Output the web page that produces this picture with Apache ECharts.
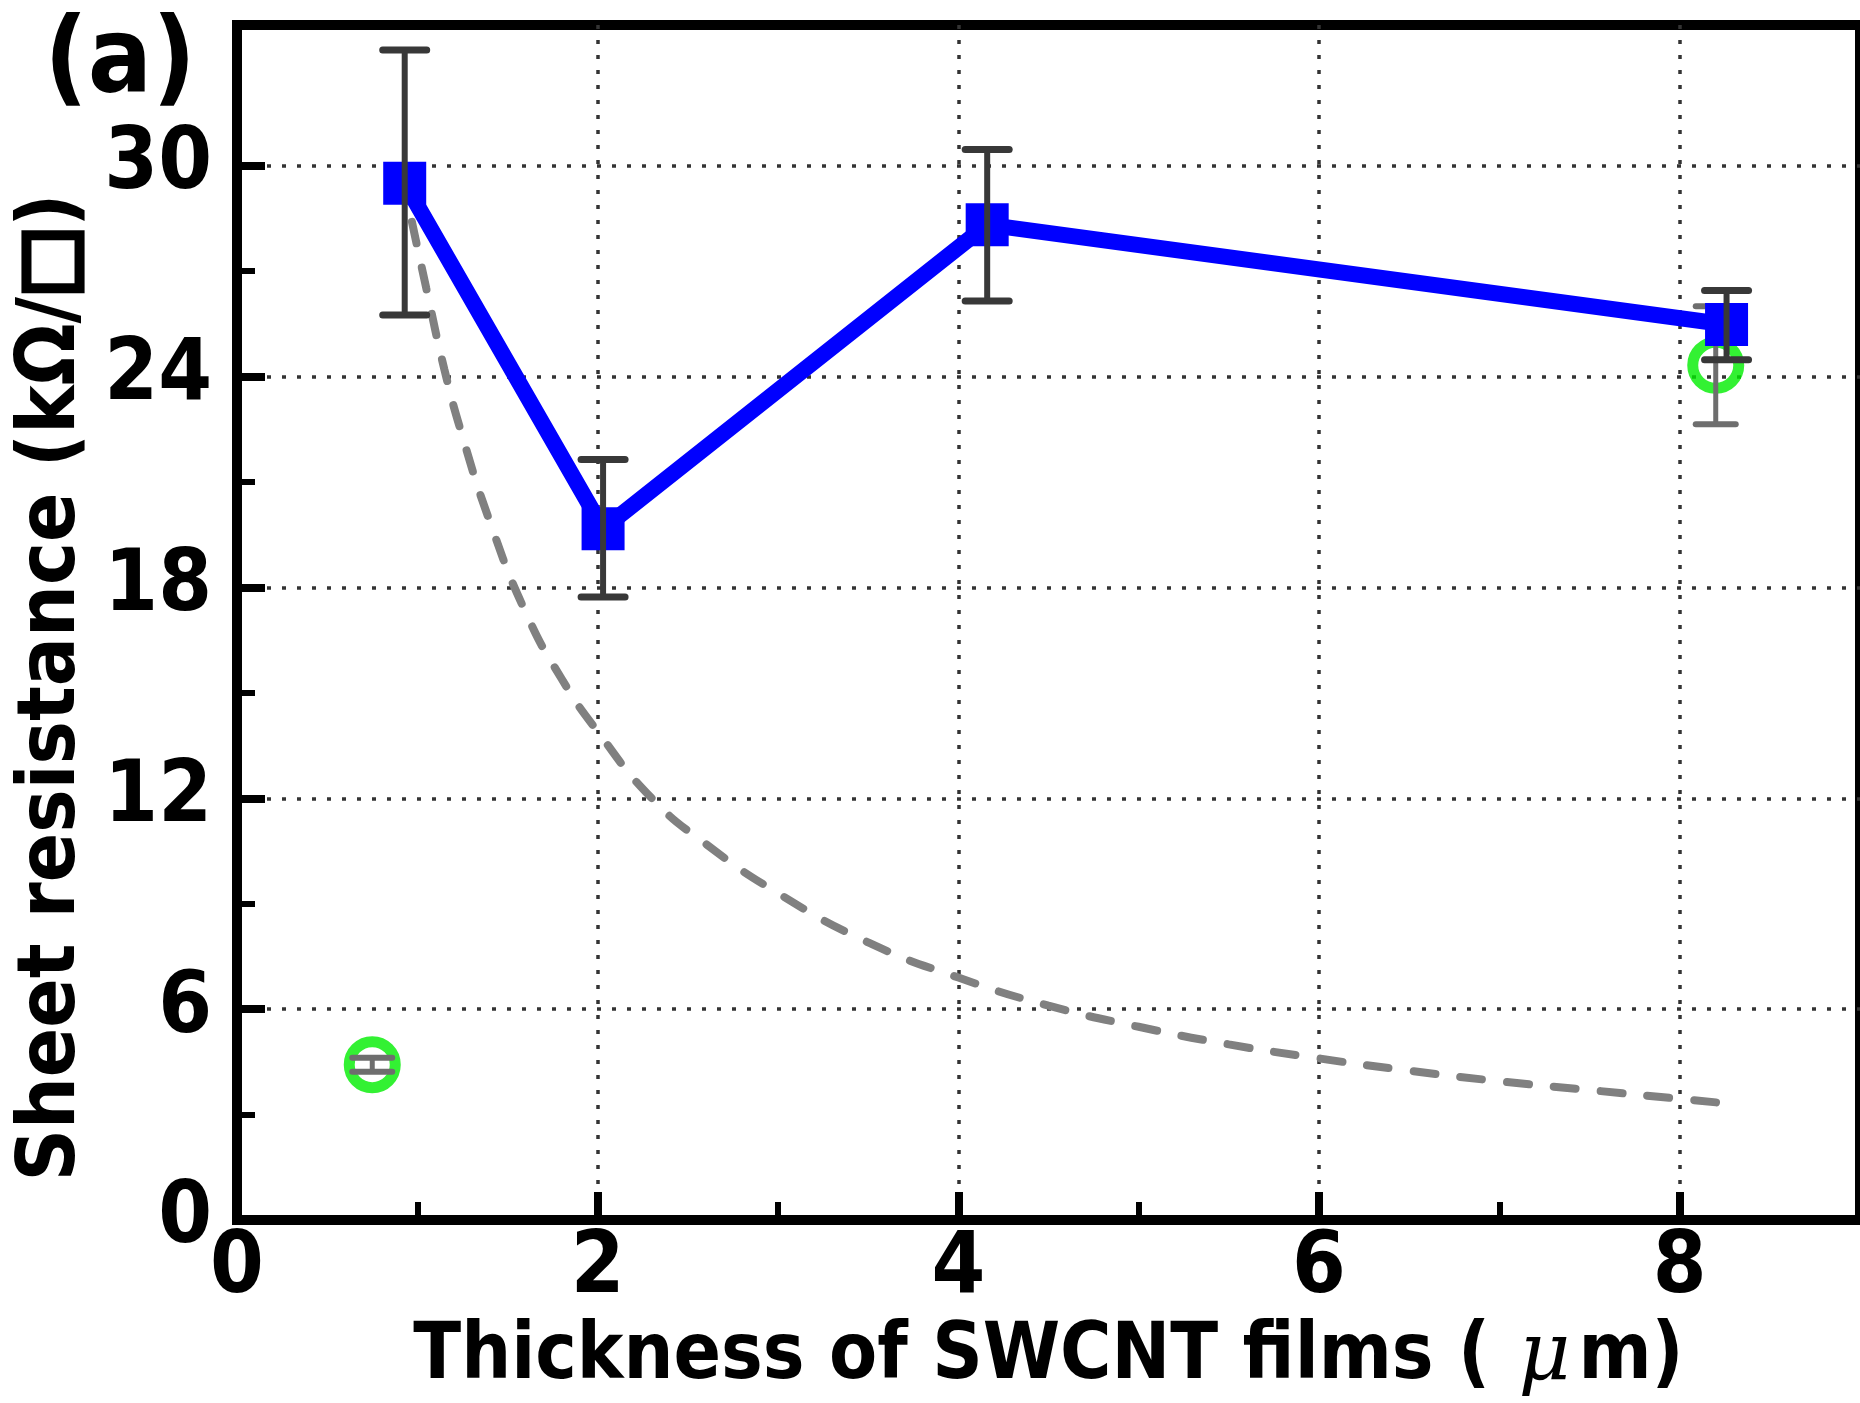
<!DOCTYPE html>
<html><head><meta charset="utf-8">
<script src="https://cdn.jsdelivr.net/npm/echarts@6/dist/echarts.min.js"></script>
<style>html,body{margin:0;padding:0;background:#fff}#c{width:1860px;height:1403px}</style>
</head><body><div id="c"></div>
<script>
// ---- data ----
const xTickLabels = [0, 2, 4, 6, 8];
const xMinorTicks = [1, 3, 5, 7];
const yTickLabels = [0, 6, 12, 18, 24, 30];
const yMinorTicks = [3, 9, 15, 21, 27];

const thicknessBlue = [0.93, 2.03, 4.16, 8.26];
const resistanceBlue = [29.5, 19.67, 28.32, 25.48];
const blueErrLow = [25.75, 17.73, 26.15, 24.48];
const blueErrHigh = [33.29, 21.64, 30.46, 26.45];

const thicknessGreen = [0.75, 8.20];
const resistanceGreen = [4.42, 24.32];
const greenErrLow = [4.22, 22.64];
const greenErrHigh = [4.62, 26.0];

const fitThickness = [0.97, 1.05, 1.15, 1.25, 1.4, 1.6, 1.8, 2.0, 2.3, 2.6, 3.0, 3.5, 4.0, 4.5, 5.0, 5.5, 6.0, 6.5, 7.0, 7.5, 8.0, 8.3];
const fitResistance = [28.4, 26.5, 24.2, 22.3, 19.9, 17.3, 15.4, 13.9, 12.0, 10.7, 9.3, 7.9, 6.9, 6.1, 5.5, 5.0, 4.6, 4.25, 3.95, 3.7, 3.45, 3.3];

const xTitle = 'Thickness of SWCNT films ( {mu|μ}m)';
const yTitle = 'Sheet resistance (kΩ/{sq|□})';
const panelLabel = '(a)';

// ---- style ----
const FONT = "'DejaVu Sans Condensed', 'DejaVu Sans', sans-serif";
const X_MIN = 0, X_MAX = 9, Y_MIN = 0, Y_MAX = 34;

function errorBar(color, lw, capW, capLw) {
  return function (params, api) {
    const x = api.value(0);
    const top = api.coord([x, api.value(2)]);
    const bot = api.coord([x, api.value(1)]);
    const h = capW / 2;
    const st = { stroke: color, lineWidth: lw };
    const cs = { stroke: color, lineWidth: capLw, lineCap: 'round' };
    return { type: 'group', children: [
      { type: 'line', shape: { x1: top[0], y1: top[1], x2: bot[0], y2: bot[1] }, style: st },
      { type: 'line', shape: { x1: top[0] - h, y1: top[1], x2: top[0] + h, y2: top[1] }, style: cs },
      { type: 'line', shape: { x1: bot[0] - h, y1: bot[1], x2: bot[0] + h, y2: bot[1] }, style: cs }
    ]};
  };
}

const chart = echarts.init(document.getElementById('c'), null, { renderer: 'canvas' });

const gridLine = { show: true, lineStyle: { color: '#333', width: 3.5, type: [4, 11] } };

chart.setOption({
  animation: false,
  backgroundColor: '#ffffff',
  grid: { left: 237, top: 25, right: -3, bottom: 176, show: true, borderColor: '#000', borderWidth: 10, backgroundColor: 'transparent' },
  xAxis: [
    {
      type: 'value', min: X_MIN, max: X_MAX, interval: 2, position: 'bottom',
      name: xTitle, nameLocation: 'middle', nameGap: 131,
      nameTextStyle: { fontFamily: FONT, fontWeight: 'bold', fontSize: 78, color: '#000', verticalAlign: 'middle',
        rich: { mu: { fontFamily: "'DejaVu Serif', serif", fontStyle: 'italic', fontWeight: 'normal', fontSize: 80, color: '#000', padding: [0, 8, 0, 4] } } },
      axisLine: { show: true, onZero: false, lineStyle: { color: '#000', width: 10 } },
      axisTick: { show: true, inside: true, length: 28, customValues: xTickLabels, lineStyle: { color: '#000', width: 8 } },
      axisLabel: { show: true, customValues: xTickLabels, margin: 7, fontFamily: FONT, fontWeight: 'bold', fontSize: 86, color: '#000' },
      splitLine: gridLine
    },
    {
      type: 'value', min: X_MIN, max: X_MAX, position: 'bottom',
      axisLine: { show: false, onZero: false },
      axisTick: { show: true, inside: true, length: 18, customValues: xMinorTicks, lineStyle: { color: '#000', width: 6 } },
      axisLabel: { show: false }, splitLine: { show: false }
    }
  ],
  yAxis: [
    {
      type: 'value', min: Y_MIN, max: Y_MAX, interval: 6, position: 'left',
      name: yTitle, nameLocation: 'middle', nameGap: 174, nameRotate: 90,
      nameTextStyle: { fontFamily: FONT, fontWeight: 'bold', fontSize: 81, color: '#000', verticalAlign: 'middle', align: 'center', padding: [0, 130, 0, 0],
        rich: { sq: { fontFamily: "'Noto Sans CJK JP', 'DejaVu Sans', sans-serif", fontWeight: 'bold', fontSize: 70, color: '#000', textBorderColor: '#000', textBorderWidth: 7 } } },
      axisLine: { show: true, onZero: false, lineStyle: { color: '#000', width: 10 } },
      axisTick: { show: true, inside: true, length: 28, customValues: yTickLabels, lineStyle: { color: '#000', width: 8 } },
      axisLabel: { show: true, customValues: yTickLabels, margin: 25, padding: [0, 0, 14, 0], fontFamily: FONT, fontWeight: 'bold', fontSize: 86, color: '#000' },
      splitLine: gridLine
    },
    {
      type: 'value', min: Y_MIN, max: Y_MAX, position: 'left',
      axisLine: { show: false, onZero: false },
      axisTick: { show: true, inside: true, length: 18, customValues: yMinorTicks, lineStyle: { color: '#000', width: 6 } },
      axisLabel: { show: false }, splitLine: { show: false }
    }
  ],
  graphic: [
    { type: 'text', x: 120, y: 64, z: 10,
      style: { text: panelLabel, fill: '#000', font: "bold 106px 'DejaVu Sans Condensed', 'DejaVu Sans', sans-serif", textAlign: 'center', textVerticalAlign: 'middle' } }
  ],
  series: [
    {
      type: 'line', name: 'fit', z: 2, smooth: true, showSymbol: false, symbol: 'none',
      data: fitThickness.map((x, i) => [x, fitResistance[i]]),
      lineStyle: { color: '#808080', width: 8, type: [22, 25], cap: 'round' }
    },
    {
      type: 'scatter', name: 'green', z: 3, symbol: 'circle', symbolSize: 46,
      data: thicknessGreen.map((x, i) => [x, resistanceGreen[i]]),
      itemStyle: { color: 'rgba(0,0,0,0)', borderColor: '#00ee00', borderWidth: 11 }
    },
    {
      type: 'custom', name: 'greenErr', z: 4,
      renderItem: errorBar('#6e6e6e', 5, 40, 6),
      encode: { x: 0, y: [1, 2] },
      data: thicknessGreen.map((x, i) => [x, greenErrLow[i], greenErrHigh[i]])
    },
    {
      type: 'line', name: 'blue', z: 5, symbol: 'rect', symbolSize: 43, showSymbol: true,
      data: thicknessBlue.map((x, i) => [x, resistanceBlue[i]]),
      lineStyle: { color: '#0000ff', width: 16 },
      itemStyle: { color: '#0000ff' }
    },
    {
      type: 'custom', name: 'blueErr', z: 6,
      renderItem: errorBar('#383838', 6, 44, 7),
      encode: { x: 0, y: [1, 2] },
      data: thicknessBlue.map((x, i) => [x, blueErrLow[i], blueErrHigh[i]])
    }
  ]
});
</script>
</body></html>
